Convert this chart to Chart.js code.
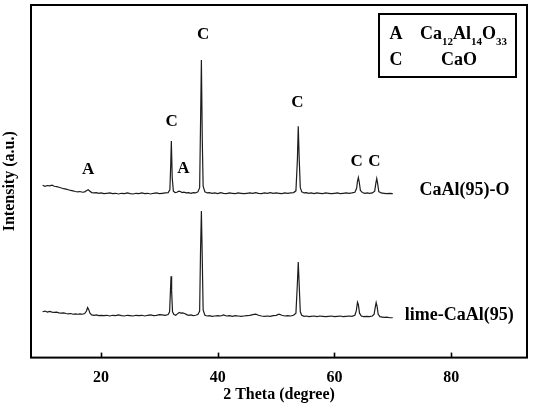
<!DOCTYPE html>
<html><head><meta charset="utf-8">
<script src="https://cdn.jsdelivr.net/npm/chart.js@4"></script>
<style>html,body{margin:0;padding:0;background:#fff;}canvas{display:block;}</style>
</head><body>
<canvas id="c" width="535" height="404"></canvas>
<script>
// 2 Theta (degree), Intensity (a.u., stacked offset as plotted)
const caAlO = [
[10.0,48.9],[10.4,48.6],[10.8,48.8],[11.2,48.7],[11.6,48.9],[12.0,48.6],[12.4,48.5],[12.8,48.3],[13.2,48.1],[13.6,47.9],
[14.0,47.8],[14.4,47.6],[14.8,47.4],[15.2,47.3],[15.6,47.1],[16.0,47.0],[16.4,47.1],[16.8,46.9],[17.2,47.0],[17.5,47.3],
[17.8,47.6],[18.1,47.2],[18.4,46.8],[18.8,46.7],[19.2,46.8],[19.6,46.6],[20.0,46.7],[20.5,46.5],[21.0,46.6],[21.5,46.7],
[22.0,46.5],[22.5,46.6],[23.0,46.4],[23.5,46.6],[24.0,46.5],[24.5,46.7],[25.0,46.5],[25.5,46.4],[26.0,46.6],[26.5,46.5],
[27.0,46.7],[27.5,46.5],[28.0,46.6],[28.5,46.4],[29.0,46.6],[29.5,46.7],[30.0,46.5],[30.5,46.6],[31.0,46.7],[31.5,46.8],
[31.8,47.6],[31.95,55.0],[32.05,61.4],[32.2,51.0],[32.4,47.2],[32.7,46.8],[33.0,46.9],[33.3,47.2],[33.6,47.1],[33.9,46.8],
[34.2,46.9],[34.6,46.7],[35.0,46.8],[35.4,46.6],[35.8,46.8],[36.2,46.7],[36.6,47.0],[36.9,48.2],[37.05,66.0],[37.2,84.4],
[37.35,62.0],[37.5,48.6],[37.8,47.0],[38.2,46.7],[38.6,46.8],[39.0,46.6],[39.5,46.7],[40.0,46.5],[40.5,46.8],[41.0,46.6],
[41.5,46.5],[42.0,46.7],[42.5,46.6],[43.0,46.5],[43.5,46.7],[44.0,46.6],[44.5,46.5],[45.0,46.6],[45.5,46.7],[46.0,46.6],
[46.5,46.8],[47.0,46.6],[47.5,46.5],[48.0,46.7],[48.5,46.6],[49.0,46.8],[49.5,46.6],[50.0,46.7],[50.5,46.6],[51.0,46.5],
[51.5,46.7],[52.0,46.6],[52.5,46.7],[53.0,46.8],[53.4,47.3],[53.65,56.0],[53.8,65.6],[53.95,57.0],[54.15,48.2],[54.4,47.0],
[54.8,46.7],[55.2,46.8],[55.6,46.6],[56.0,46.7],[56.5,46.5],[57.0,46.7],[57.5,46.6],[58.0,46.5],[58.5,46.7],[59.0,46.6],
[59.5,46.5],[60.0,46.6],[60.5,46.7],[61.0,46.5],[61.5,46.6],[62.0,46.7],[62.5,46.6],[63.0,46.7],[63.5,46.9],[63.8,48.0],
[63.95,50.0],[64.1,51.1],[64.25,49.8],[64.45,47.4],[64.8,46.8],[65.2,46.6],[65.6,46.7],[66.0,46.6],[66.5,46.7],[66.9,47.2],
[67.1,49.5],[67.25,50.8],[67.4,49.4],[67.6,47.1],[68.0,46.7],[68.5,46.6],[69.0,46.5],[69.5,46.6],[70.0,46.5]
];
const limeCaAl = [
[10.0,13.0],[10.4,13.2],[10.8,12.9],[11.2,13.1],[11.6,12.9],[12.0,12.8],[12.4,12.9],[12.8,12.7],[13.2,12.6],[13.6,12.7],
[14.0,12.5],[14.4,12.4],[14.8,12.5],[15.2,12.3],[15.6,12.4],[16.0,12.3],[16.4,12.4],[16.8,12.3],[17.2,12.5],[17.5,13.2],
[17.7,14.2],[17.9,13.6],[18.1,12.6],[18.4,12.1],[18.8,12.0],[19.2,12.1],[19.6,11.9],[20.0,12.0],[20.5,11.9],[21.0,12.0],
[21.5,11.8],[22.0,12.0],[22.5,11.9],[23.0,12.1],[23.5,11.9],[24.0,11.8],[24.5,12.0],[25.0,11.9],[25.5,11.8],[26.0,12.0],
[26.5,11.9],[27.0,12.0],[27.5,11.8],[28.0,12.0],[28.5,12.1],[29.0,11.9],[29.5,12.0],[30.0,12.2],[30.5,12.1],[31.0,12.0],
[31.5,12.2],[31.75,13.0],[31.9,19.0],[32.0,23.1],[32.1,19.0],[32.25,13.0],[32.5,12.2],[32.8,12.0],[33.1,12.4],[33.4,12.8],
[33.7,12.6],[34.0,12.7],[34.3,12.5],[34.7,12.2],[35.0,12.0],[35.4,12.1],[35.8,11.9],[36.2,12.0],[36.6,12.2],[36.9,13.2],
[37.05,30.0],[37.2,41.6],[37.35,28.0],[37.5,13.5],[37.8,12.0],[38.2,11.8],[38.6,11.9],[39.0,11.7],[39.5,11.8],[40.0,11.9],
[40.5,11.8],[41.0,12.1],[41.5,11.8],[42.0,11.9],[42.5,11.7],[43.0,11.9],[43.5,11.8],[44.0,11.7],[44.5,11.8],[45.0,11.9],
[45.5,12.0],[46.0,12.2],[46.5,12.3],[47.0,12.0],[47.5,11.8],[48.0,11.7],[48.5,11.8],[49.0,11.7],[49.5,11.9],[50.0,12.0],
[50.5,12.3],[51.0,12.0],[51.5,11.8],[52.0,11.9],[52.5,11.8],[53.0,12.0],[53.4,12.6],[53.65,21.0],[53.8,27.1],[53.95,21.0],
[54.15,13.0],[54.4,12.0],[54.8,11.7],[55.2,11.8],[55.6,11.6],[56.0,11.7],[56.5,11.8],[57.0,11.6],[57.5,11.8],[58.0,11.7],
[58.5,11.6],[59.0,11.7],[59.5,11.8],[60.0,11.6],[60.5,11.7],[61.0,11.8],[61.5,11.6],[62.0,11.7],[62.5,11.8],[63.0,11.7],
[63.5,12.0],[63.75,13.3],[63.95,15.7],[64.1,15.0],[64.3,12.6],[64.6,11.8],[65.0,11.6],[65.5,11.7],[66.0,11.6],[66.5,11.8],
[66.8,12.3],[67.0,14.3],[67.15,15.6],[67.3,14.6],[67.5,12.3],[67.8,11.6],[68.2,11.5],[68.6,11.4],[69.0,11.5],[69.5,11.3],
[70.0,11.3]
];
const seriesNames = ['CaAl(95)-O', 'lime-CaAl(95)'];
const seriesLabelX = [82.3, 81.4];
const seriesLabelY = [47.4, 12.1];
const xTickValues = [20, 40, 60, 80];
const peakLabels = ['A', 'C', 'A', 'C', 'C', 'C', 'C'];
const peakLabelX = [17.8, 32.1, 34.1, 37.5, 53.65, 63.8, 66.85];
const peakLabelY = [53.3, 67.0, 53.7, 91.5, 72.2, 55.7, 55.7];
const legendCodes = ['A', 'C'];
const legendPhases = [
  [['Ca',0],['12',1],['Al',0],['14',1],['O',0],['33',1]],
  [['CaO',0]]
];
const xTitle = '2 Theta (degree)';
const yTitle = 'Intensity (a.u.)';

const SERIF = '"Liberation Serif", "Times New Roman", serif';
const lineColor = '#1c1c1c';

const framePlugin = {
  id: 'frame',
  afterDatasetsDraw(chart) {
    const {ctx, chartArea: a, scales: {x, y}} = chart;
    ctx.save();
    ctx.strokeStyle = '#000';
    ctx.lineWidth = 1.6;
    x.ticks.forEach(t => {
      const px = Math.round(x.getPixelForValue(t.value)) + 0.5;
      ctx.beginPath();
      ctx.moveTo(px, a.bottom);
      ctx.lineTo(px, a.bottom - 5);
      ctx.stroke();
    });
    ctx.lineWidth = 2;
    ctx.strokeRect(a.left, a.top, a.right - a.left, a.bottom - a.top);

    ctx.fillStyle = '#000';
    ctx.font = 'bold 17px ' + SERIF;
    ctx.textAlign = 'center';
    ctx.textBaseline = 'middle';
    peakLabels.forEach((s, i) => {
      ctx.fillText(s, x.getPixelForValue(peakLabelX[i]), y.getPixelForValue(peakLabelY[i]));
    });
    ctx.font = 'bold 18px ' + SERIF;
    seriesNames.forEach((s, i) => {
      ctx.fillText(s, x.getPixelForValue(seriesLabelX[i]), y.getPixelForValue(seriesLabelY[i]));
    });

    const bw = 137, bh = 63;
    const bx = a.right - 11 - bw, by = a.top + 9;
    ctx.fillStyle = '#fff';
    ctx.fillRect(bx, by, bw, bh);
    ctx.lineWidth = 2;
    ctx.strokeRect(bx, by, bw, bh);
    ctx.fillStyle = '#000';
    ctx.textBaseline = 'alphabetic';
    const baselines = [by + 25.3, by + 50.7];
    legendCodes.forEach((code, i) => {
      ctx.font = 'bold 18px ' + SERIF;
      ctx.textAlign = 'center';
      ctx.fillText(code, bx + 17, baselines[i]);
      const parts = legendPhases[i];
      let total = 0;
      parts.forEach(([t, sub]) => {
        ctx.font = sub ? 'bold 11px ' + SERIF : 'bold 18px ' + SERIF;
        total += ctx.measureText(t).width;
      });
      const center = i === 0 ? bx + 84.5 : bx + 80;
      let cx = center - total / 2;
      ctx.textAlign = 'left';
      parts.forEach(([t, sub]) => {
        ctx.font = sub ? 'bold 11px ' + SERIF : 'bold 18px ' + SERIF;
        ctx.fillText(t, cx, baselines[i] + (sub ? 6 : 0));
        cx += ctx.measureText(t).width;
      });
    });
    ctx.restore();
  }
};

new Chart(document.getElementById('c'), {
  type: 'line',
  data: {
    datasets: [
      {label: seriesNames[0], data: caAlO.map(p => ({x: p[0], y: p[1]})), borderColor: lineColor, borderWidth: 1.2, pointRadius: 0, tension: 0, fill: false},
      {label: seriesNames[1], data: limeCaAl.map(p => ({x: p[0], y: p[1]})), borderColor: lineColor, borderWidth: 1.2, pointRadius: 0, tension: 0, fill: false}
    ]
  },
  options: {
    responsive: false,
    animation: false,
    devicePixelRatio: 1,
    layout: {padding: {left: 0, right: 8, top: 5, bottom: 0}},
    plugins: {legend: {display: false}, tooltip: {enabled: false}},
    scales: {
      x: {
        type: 'linear', min: 8, max: 93,
        afterBuildTicks: s => { s.ticks = xTickValues.map(v => ({value: v})); },
        grid: {display: false, drawTicks: false},
        border: {display: false},
        ticks: {color: '#000', padding: 11, font: {family: SERIF, size: 16, weight: 'bold', lineHeight: 1.2}, maxRotation: 0},
        title: {display: true, text: xTitle, color: '#000', padding: {top: -14, bottom: 0}, font: {family: SERIF, size: 16, weight: 'bold', lineHeight: 1.2}}
      },
      y: {
        type: 'linear', min: 0, max: 100,
        grid: {display: false, drawTicks: false},
        border: {display: false},
        ticks: {display: false},
        title: {display: true, text: yTitle, color: '#000', padding: {top: 0, bottom: 11.8}, font: {family: SERIF, size: 16, weight: 'bold', lineHeight: 1.2}}
      }
    }
  },
  plugins: [framePlugin]
});
</script>
</body></html>
